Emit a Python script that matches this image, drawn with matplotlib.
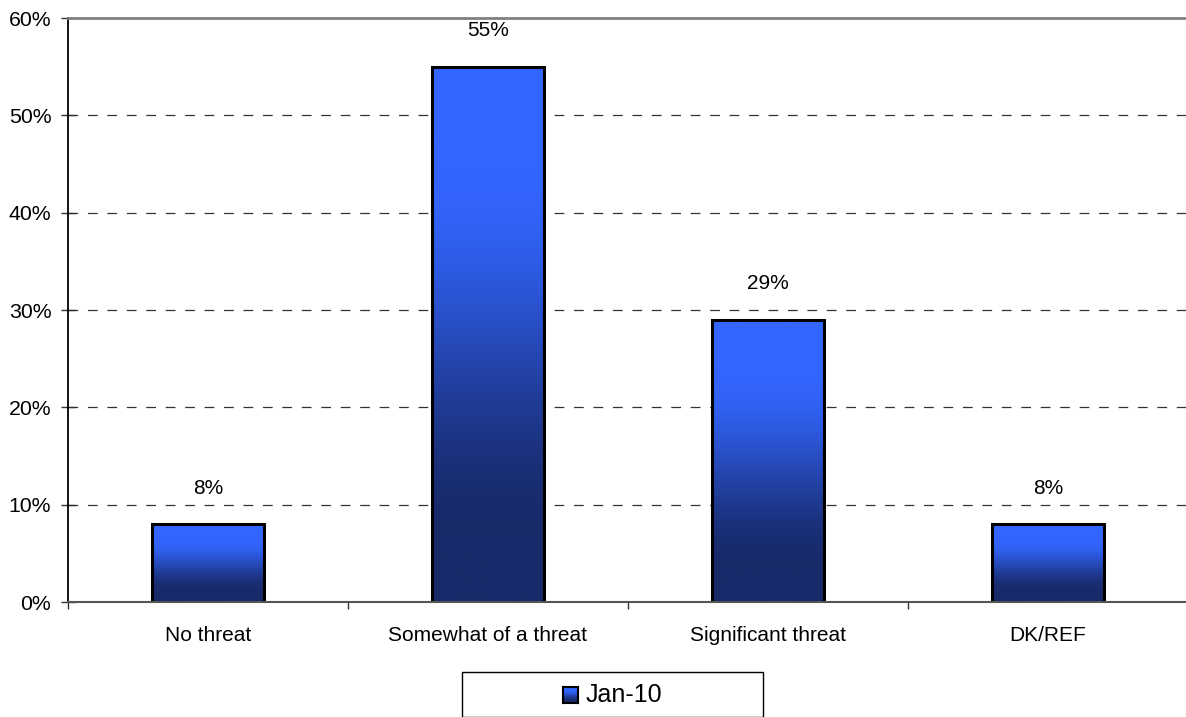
import numpy as np
import matplotlib
matplotlib.use("Agg")
import matplotlib.pyplot as plt
from matplotlib.patches import Rectangle

categories = ["No threat", "Somewhat of a threat", "Significant threat", "DK/REF"]
values = [8, 55, 29, 8]
series_name = "Jan-10"
yticks = [0, 10, 20, 30, 40, 50, 60]

plt.rcParams['font.family'] = ['Liberation Sans', 'DejaVu Sans']
plt.rcParams['lines.scale_dashes'] = False

W, H = 1186, 717
fig = plt.figure(figsize=(W / 100, H / 100), dpi=100)
ax = fig.add_axes([68 / W, 1 - 602 / H, 1120 / W, 584 / H])

top_c = np.array([0x33, 0x66, 0xFF]) / 255
bot_c = np.array([0x17, 0x2A, 0x6A]) / 255
t = np.linspace(0, 1, 256)
s = np.clip((t - 0.18) / 0.7, 0, 1)
s = s * s * (3 - 2 * s)
cols = top_c[None, :] * (1 - s[:, None]) + bot_c[None, :] * s[:, None]
grad = cols[:, None, :]  # top row first

bw = 0.4
x = np.arange(len(categories))
bars = ax.bar(x, values, width=bw, color='none', edgecolor='black', linewidth=2.2, zorder=4)
for b in bars:
    x0, y0 = b.get_x(), b.get_y()
    ax.imshow(grad, extent=(x0, x0 + b.get_width(), y0, y0 + b.get_height()),
              aspect='auto', zorder=3, interpolation='bilinear')

for xi, v in zip(x, values):
    ax.annotate(f"{v}%", (xi, v), xytext=(0, 19), textcoords='offset points',
                ha='center', va='bottom', fontsize=15)

ax.set_xlim(-0.5, len(categories) - 0.5)
ax.set_ylim(0, 60)
ax.set_yticks(yticks)
ax.set_yticklabels([f"{v}%" for v in yticks])
ax.set_xticks(x)
ax.set_xticklabels(categories)
ax.set_xticks(np.arange(-0.5, len(categories) + 0.5, 1), minor=True)
ax.tick_params(axis='x', which='major', length=0, pad=17, labelsize=15)
ax.tick_params(axis='x', which='minor', length=5, width=1, direction='out', color='#333333')
ax.tick_params(axis='y', length=10, width=1, direction='inout', pad=7, labelsize=15.3, color='#333333')

for yv in yticks[1:-1]:
    ax.axhline(yv, color='#333333', lw=0.9, linestyle=(0, (7, 7)), zorder=1)

ax.spines['top'].set_color('#808080')
ax.spines['top'].set_linewidth(2)
ax.spines['right'].set_visible(False)
ax.spines['bottom'].set_color('#555555')
ax.spines['bottom'].set_linewidth(1.5)
ax.spines['left'].set_color('black')
ax.spines['left'].set_linewidth(1.3)
for sp in ax.spines.values():
    sp.set_zorder(5)

# legend box
box = Rectangle((462 / W, 0), (763 - 462) / W, (717 - 672) / H,
                transform=fig.transFigure, facecolor='white',
                edgecolor='black', linewidth=1, zorder=-1)
fig.patches.append(box)
lax = fig.add_axes([563 / W, 1 - 703 / H, 15 / W, 16 / H])
lax.set_zorder(10)
lax.imshow(grad, extent=(0, 1, 0, 1), aspect='auto', interpolation='bilinear')
lax.set_xticks([]); lax.set_yticks([])
for sp in lax.spines.values():
    sp.set_linewidth(1.5)
fig.text(586 / W, 1 - 695 / H, series_name, fontsize=18, ha='left', va='center', zorder=11)

fig.savefig("out.png", dpi=100)
